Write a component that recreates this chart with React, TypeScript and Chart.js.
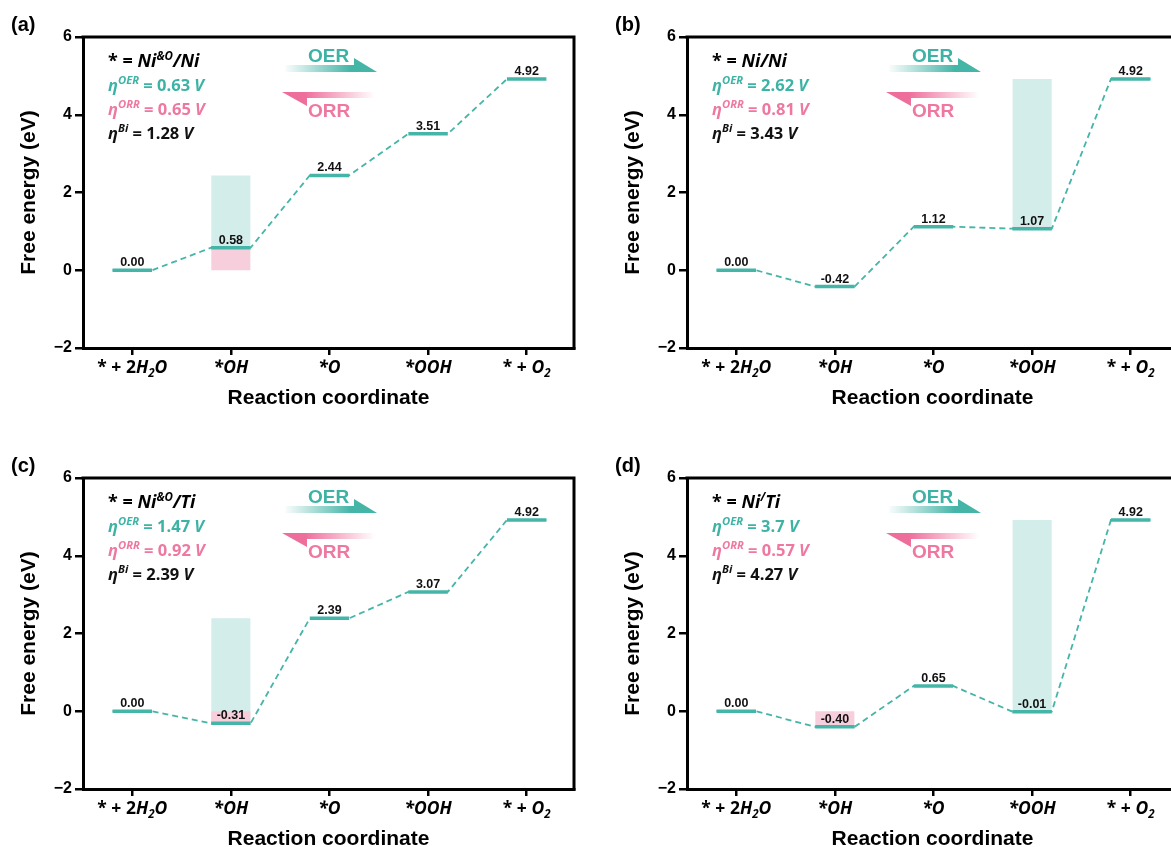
import React, { useEffect, useRef } from 'react';
import { Chart, registerables } from 'chart.js';

Chart.register(...registerables);

type Seg = [string, string];

// ---------- data ----------
const categoryLabels: Seg[][] = [
  [['* + 2', 'b'], ['H', 'i'], ['2', 'isub'], ['O', 'i']],
  [['*OH', 'i']],
  [['*O', 'i']],
  [['*OOH', 'i']],
  [['* + ', 'b'], ['O', 'i'], ['2', 'isub']],
];
const yTicks = [-2, 0, 2, 4, 6];
const panelLetters = ['(a)', '(b)', '(c)', '(d)'];

const energiesA = [0.0, 0.58, 2.44, 3.51, 4.92];
const energiesB = [0.0, -0.42, 1.12, 1.07, 4.92];
const energiesC = [0.0, -0.31, 2.39, 3.07, 4.92];
const energiesD = [0.0, -0.4, 0.65, -0.01, 4.92];

// [step index, low, high]
const oerSpanA = [1, 0.58, 2.44];
const orrSpanA = [1, 0.0, 0.58];
const oerSpanB = [3, 1.07, 4.92];
const orrSpanB = [3, 1.07, 1.12];
const oerSpanC = [1, -0.31, 2.39];
const orrSpanC = [1, -0.31, 0.0];
const oerSpanD = [3, -0.01, 4.92];
const orrSpanD = [1, -0.4, 0.0];

const catalystA: Seg[] = [['* = ', 'b'], ['Ni', 'i'], ['&O', 'isup'], ['/Ni', 'i']];
const catalystB: Seg[] = [['* = ', 'b'], ['Ni/Ni', 'i']];
const catalystC: Seg[] = [['* = ', 'b'], ['Ni', 'i'], ['&O', 'isup'], ['/Ti', 'i']];
const catalystD: Seg[] = [['* = ', 'b'], ['Ni', 'i'], ['/', 'isup'], ['Ti', 'i']];

const etaOER = ['0.63', '2.62', '1.47', '3.7'];
const etaORR = ['0.65', '0.81', '0.92', '0.57'];
const etaBi = ['1.28', '3.43', '2.39', '4.27'];

const energies = [energiesA, energiesB, energiesC, energiesD];
const oerSpans = [oerSpanA, oerSpanB, oerSpanC, oerSpanD];
const orrSpans = [orrSpanA, orrSpanB, orrSpanC, orrSpanD];
const catalysts = [catalystA, catalystB, catalystC, catalystD];

// ---------- style ----------
const ARIAL = '"Liberation Sans", Arial, sans-serif';
const OPEN = '"Open Sans", sans-serif';
const TEAL = '#45B5A8';
const TEAL_TEXT = '#3DB3A5';
const PINK = '#EE78A0';
const TEAL_FILL = '#D3EDEB';
const PINK_FILL = '#F7CFDC';
const HALF = 0.2;
const W = 604;
const H = 441;

function drawRich(
  ctx: CanvasRenderingContext2D,
  segs: Seg[],
  x: number,
  y: number,
  size: number,
  family: string,
  color: string,
  align: 'left' | 'center' = 'left',
  supRatio = 0.64
) {
  const parts = segs.map(([t, s]) => {
    const italic = s.includes('i');
    const sup = s.includes('sup');
    const sub = s.includes('sub');
    const fs = sup || sub ? size * supRatio : size;
    const font = `${italic ? 'italic ' : ''}bold ${fs}px ${family}`;
    ctx.font = font;
    const w = ctx.measureText(t).width;
    const dy = sup ? -size * 0.4 : sub ? size * 0.22 : 0;
    return { t, font, w, dy };
  });
  const total = parts.reduce((a, p) => a + p.w, 0);
  let cx = align === 'center' ? x - total / 2 : x;
  ctx.save();
  ctx.textAlign = 'left';
  ctx.textBaseline = 'alphabetic';
  ctx.fillStyle = color;
  for (const p of parts) {
    ctx.font = p.font;
    ctx.fillText(p.t, cx, y + p.dy);
    cx += p.w;
  }
  ctx.restore();
}

function makeConfig(idx: number): any {
  const en = energies[idx];
  const oer = oerSpans[idx];
  const orr = orrSpans[idx];

  const levelPts: any[] = [];
  en.forEach((v, i) => {
    levelPts.push({ x: i - HALF, y: v }, { x: i + HALF, y: v });
    if (i < en.length - 1) levelPts.push({ x: i + 0.5, y: null });
  });
  const pathPts = en.flatMap((v, i) => [
    { x: i - HALF, y: v },
    { x: i + HALF, y: v },
  ]);
  const rectPts = (s: number[]) => [
    { x: s[0] - HALF, y: s[2] },
    { x: s[0] + HALF, y: s[2] },
  ];

  const plugin = {
    id: 'decor' + idx,
    afterDraw(chart: any) {
      const ctx: CanvasRenderingContext2D = chart.ctx;
      const { left: L, top: T, right: R, bottom: B } = chart.chartArea;
      const xs = chart.scales.x;
      const ys = chart.scales.y;
      ctx.save();
      // frame top/right
      ctx.strokeStyle = '#000';
      ctx.lineWidth = 3;
      ctx.beginPath();
      ctx.moveTo(L - 1.5, T);
      ctx.lineTo(R, T);
      ctx.lineTo(R, B + 1.5);
      ctx.stroke();

      // level labels
      ctx.fillStyle = '#111';
      ctx.font = `bold 12.5px ${ARIAL}`;
      ctx.textAlign = 'center';
      ctx.textBaseline = 'alphabetic';
      en.forEach((v, i) => {
        ctx.fillText(v.toFixed(2), xs.getPixelForValue(i), ys.getPixelForValue(v) - 4);
      });

      // x tick labels
      categoryLabels.forEach((segs, i) => {
        drawRich(ctx, segs, xs.getPixelForValue(i), B + 25, 17.5, OPEN, '#000', 'center', 0.66);
      });

      // axis titles
      ctx.fillStyle = '#000';
      ctx.font = `bold 21px ${ARIAL}`;
      ctx.textAlign = 'center';
      ctx.textBaseline = 'alphabetic';
      ctx.fillText('Reaction coordinate', (L + R) / 2, B + 56);
      ctx.save();
      ctx.translate(29, (T + B) / 2);
      ctx.rotate(-Math.PI / 2);
      ctx.textBaseline = 'middle';
      ctx.fillText('Free energy (eV)', 0, 0);
      ctx.restore();

      // panel letter
      ctx.font = `bold 20px ${ARIAL}`;
      ctx.textAlign = 'left';
      ctx.textBaseline = 'alphabetic';
      ctx.fillText(panelLetters[idx], 11, 31);

      // annotations
      drawRich(ctx, catalysts[idx], L + 25, T + 30, 18, OPEN, '#000');
      drawRich(ctx, [['η', 'i'], ['OER', 'isup'], [' = ' + etaOER[idx] + ' ', 'b'], ['V', 'i']], L + 25, T + 54, 16.5, OPEN, TEAL_TEXT, 'left', 0.68);
      drawRich(ctx, [['η', 'i'], ['ORR', 'isup'], [' = ' + etaORR[idx] + ' ', 'b'], ['V', 'i']], L + 25, T + 78, 16.5, OPEN, PINK, 'left', 0.68);
      drawRich(ctx, [['η', 'i'], ['Bi', 'isup'], [' = ' + etaBi[idx] + ' ', 'b'], ['V', 'i']], L + 25, T + 102, 16.5, OPEN, '#111', 'left', 0.68);

      // OER arrow
      let g = ctx.createLinearGradient(L + 200, 0, L + 268, 0);
      g.addColorStop(0, 'rgba(69,181,168,0)');
      g.addColorStop(1, 'rgba(69,181,168,1)');
      ctx.fillStyle = g;
      ctx.beginPath();
      ctx.moveTo(L + 202, T + 28);
      ctx.lineTo(L + 271, T + 28);
      ctx.lineTo(L + 271, T + 21);
      ctx.lineTo(L + 294, T + 35);
      ctx.lineTo(L + 202, T + 35);
      ctx.closePath();
      ctx.fill();

      // ORR arrow
      g = ctx.createLinearGradient(L + 222, 0, L + 292, 0);
      g.addColorStop(0, 'rgba(238,110,155,1)');
      g.addColorStop(1, 'rgba(238,110,155,0)');
      ctx.fillStyle = g;
      ctx.beginPath();
      ctx.moveTo(L + 199, T + 55);
      ctx.lineTo(L + 292, T + 55);
      ctx.lineTo(L + 292, T + 61);
      ctx.lineTo(L + 224, T + 61);
      ctx.lineTo(L + 224, T + 69);
      ctx.closePath();
      ctx.fill();

      ctx.font = `bold 19px ${ARIAL}`;
      ctx.textAlign = 'left';
      ctx.fillStyle = TEAL_TEXT;
      ctx.fillText('OER', L + 225, T + 25);
      ctx.fillStyle = PINK;
      ctx.fillText('ORR', L + 225, T + 80);
      ctx.restore();
    },
  };

  return {
    type: 'line',
    data: {
      datasets: [
        {
          data: levelPts,
          borderColor: TEAL,
          borderWidth: 3.5,
          borderCapStyle: 'butt',
          pointRadius: 0,
          spanGaps: false,
          fill: false,
          order: 1,
        },
        {
          data: pathPts,
          borderColor: TEAL,
          borderWidth: 1.8,
          borderDash: [6, 4],
          pointRadius: 0,
          fill: false,
          order: 2,
        },
        {
          data: rectPts(orr),
          borderWidth: 0,
          borderColor: 'rgba(0,0,0,0)',
          backgroundColor: PINK_FILL,
          pointRadius: 0,
          fill: { value: orr[1] },
          order: 3,
        },
        {
          data: rectPts(oer),
          borderWidth: 0,
          borderColor: 'rgba(0,0,0,0)',
          backgroundColor: TEAL_FILL,
          pointRadius: 0,
          fill: { value: oer[1] },
          order: 4,
        },
      ],
    },
    options: {
      animation: false,
      responsive: false,
      devicePixelRatio: 1,
      layout: { padding: { left: 0, top: 37, right: 30, bottom: 0 } },
      plugins: {
        legend: { display: false },
        tooltip: { enabled: false },
      },
      scales: {
        x: {
          type: 'linear',
          min: -0.5,
          max: 4.48,
          afterBuildTicks: (s: any) => {
            s.ticks = categoryLabels.map((_, i) => ({ value: i }));
          },
          ticks: { callback: () => '' },
          grid: {
            drawOnChartArea: false,
            drawTicks: true,
            tickLength: 7,
            lineWidth: 2.5,
            color: '#000',
          },
          border: { display: true, width: 3, color: '#000' },
          afterFit: (s: any) => {
            s.height = 93;
          },
        },
        y: {
          min: -2,
          max: 6,
          afterBuildTicks: (s: any) => {
            s.ticks = yTicks.map((v) => ({ value: v }));
          },
          ticks: {
            font: { family: ARIAL, weight: 'bold', size: 16 },
            color: '#000',
            padding: 3,
            callback: (v: any) => String(v).replace('-', '−'),
          },
          grid: {
            drawOnChartArea: false,
            drawTicks: true,
            tickLength: 8,
            lineWidth: 2.5,
            color: '#000',
          },
          border: { display: true, width: 3, color: '#000' },
          afterFit: (s: any) => {
            s.width = 83;
          },
        },
      },
    },
    plugins: [plugin],
  };
}

function Panel({ idx }: { idx: number }) {
  const ref = useRef<HTMLCanvasElement>(null);
  useEffect(() => {
    if (!ref.current) return;
    const chart = new Chart(ref.current, makeConfig(idx));
    return () => chart.destroy();
  }, [idx]);
  return (
    <canvas
      ref={ref}
      width={W}
      height={H}
      style={{
        position: 'absolute',
        left: (idx % 2) * W,
        top: Math.floor(idx / 2) * H,
        width: W,
        height: H,
      }}
    />
  );
}

export default function App() {
  return (
    <div
      style={{
        position: 'absolute',
        left: 0,
        top: 0,
        width: 1171,
        height: 847,
        overflow: 'hidden',
        background: '#fff',
      }}
    >
      {[0, 1, 2, 3].map((i) => (
        <Panel key={i} idx={i} />
      ))}
    </div>
  );
}
